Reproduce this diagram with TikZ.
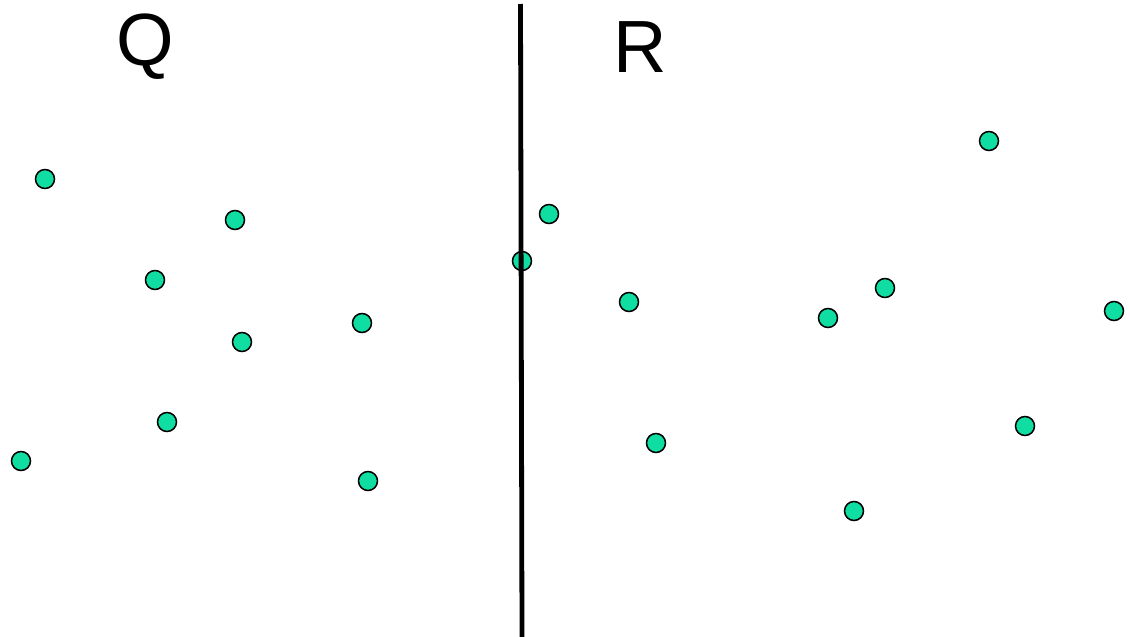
\documentclass[tikz,border=0pt]{standalone}
\usepackage{fontspec}
\setmainfont{Liberation Sans}
\usepackage{xcolor}
\definecolor{dotgreen}{HTML}{10DDA2}
\usetikzlibrary{positioning}

\begin{document}
\begin{tikzpicture}[x=1pt, y=-1pt,
		pt/.style={circle, draw=black, line width=1.5pt, fill=dotgreen, minimum size=19pt, inner sep=0pt},
		lbl/.style={font=\fontsize{74}{74}\selectfont}]
	\useasboundingbox (0,0) rectangle (1130,637);
	% points in Q
	\foreach \x/\y [count=\i] in {45/179,235/220,155/280,242/342,362/323,167/422,21/461,368/481} {
		\node[pt] (q\i) at (\x,\y) {};
	}
	% points in R
	\foreach \x/\y [count=\i] in {549/214,522/261,629/302,656/443,989/141,885/288,828/318,1114/311,1025/426,854/511} {
		\node[pt] (r\i) at (\x,\y) {};
	}
	\node[lbl] (labQ) at (145,47) {Q};
	\node[lbl] (labR) at (640,47) {R};

	\coordinate (top) at (520.5,4);
	\coordinate (bot) at (522,637);
	\draw[line width=4.8pt] (top) -- (bot);
\end{tikzpicture}
\end{document}
